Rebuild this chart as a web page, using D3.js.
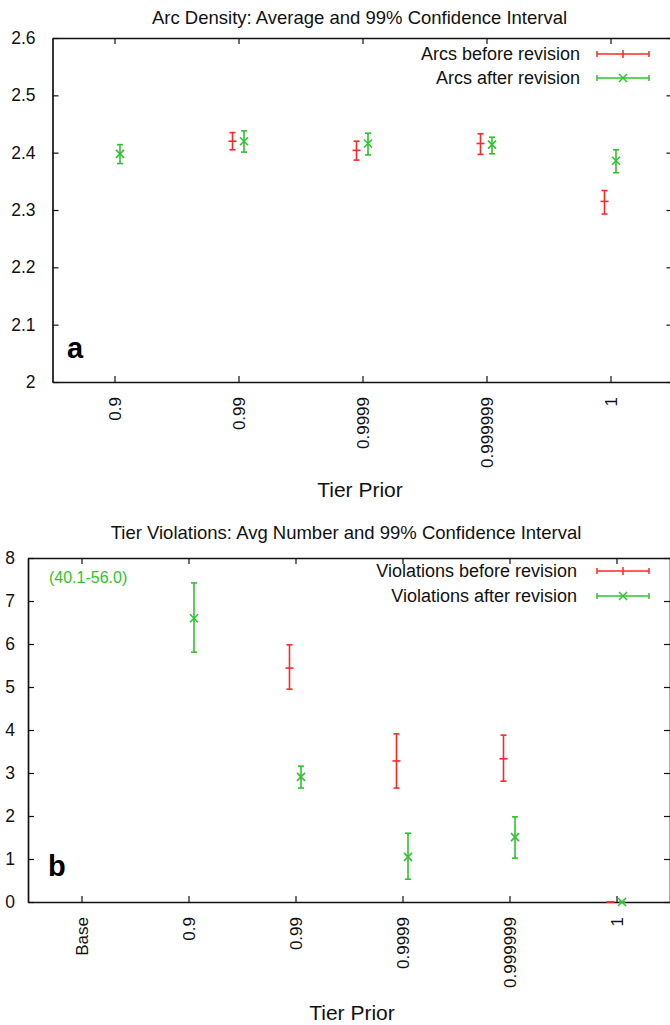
<!DOCTYPE html>
<html>
<head>
<meta charset="utf-8">
<script src="https://cdn.jsdelivr.net/npm/d3@7"></script>
<style>
  html, body { margin: 0; padding: 0; background: #fff; }
  svg { display: block; font-family: "Liberation Sans", Arial, Helvetica, sans-serif; }
</style>
</head>
<body>
<svg id="chart" width="670" height="1025"></svg>
<script>
// ---------- Panel a: Arc density ----------
const arcCategories = ["0.9", "0.99", "0.9999", "0.999999", "1"];
const arcBeforeMean = [null, 2.420, 2.404, 2.416, 2.315];
const arcBeforeLow  = [null, 2.405, 2.387, 2.397, 2.293];
const arcBeforeHigh = [null, 2.435, 2.420, 2.433, 2.334];
const arcAfterMean  = [2.398, 2.420, 2.416, 2.414, 2.386];
const arcAfterLow   = [2.381, 2.401, 2.396, 2.398, 2.365];
const arcAfterHigh  = [2.414, 2.438, 2.434, 2.427, 2.405];
const arcYTicks = [2.0, 2.1, 2.2, 2.3, 2.4, 2.5, 2.6];
const arcYDomain = [2.0, 2.6];

// ---------- Panel b: Tier violations ----------
const vioCategories = ["Base", "0.9", "0.99", "0.9999", "0.999999", "1"];
const vioBeforeMean = [null, null, 5.44, 3.28, 3.33, 0];
const vioBeforeLow  = [null, null, 4.95, 2.65, 2.81, 0];
const vioBeforeHigh = [null, null, 5.98, 3.91, 3.88, 0];
const vioAfterMean  = [null, 6.60, 2.91, 1.05, 1.51, 0];
const vioAfterLow   = [null, 5.81, 2.65, 0.53, 1.02, 0];
const vioAfterHigh  = [null, 7.42, 3.16, 1.60, 1.98, 0];
const vioYTicks = [0, 1, 2, 3, 4, 5, 6, 7, 8];
const vioYDomain = [0, 8];

const RED = "#ff2626";
const GREEN = "#2dc42d";

const svg = d3.select("#chart");

function drawPanel(cfg) {
  const g = svg.append("g");
  const x = d3.scaleLinear().domain([-0.5, cfg.categories.length - 0.5]).range([cfg.left, cfg.right]);
  const y = d3.scaleLinear().domain(cfg.yDomain).range([cfg.bottom, cfg.top]);
  const idx = cfg.categories.map((_, i) => i);

  // title
  g.append("text").attr("x", (cfg.left + cfg.right) / 2 - 3).attr("y", cfg.titleY)
    .attr("text-anchor", "middle").attr("font-size", 18.5).attr("fill", "#111")
    .text(cfg.title);

  // axes
  const yLeft = d3.axisLeft(y).tickValues(cfg.yTicks).tickSize(-6).tickSizeOuter(0)
    .tickPadding(cfg.yPad).tickFormat(cfg.yFormat);
  const yRight = d3.axisRight(y).tickValues(cfg.yTicks).tickSize(-6).tickSizeOuter(0).tickFormat("");
  const xBottom = d3.axisBottom(x).tickValues(idx).tickSize(-6).tickSizeOuter(0)
    .tickFormat(i => cfg.categories[i]);
  const xTop = d3.axisTop(x).tickValues(idx).tickSize(-6).tickSizeOuter(0).tickFormat("");

  const ay = g.append("g").attr("transform", `translate(${cfg.left},0)`).call(yLeft);
  ay.selectAll("text").attr("font-size", 17.5).attr("fill", "#111").attr("font-family", null);
  g.append("g").attr("transform", `translate(${cfg.right},0)`).call(yRight);
  g.append("g").attr("transform", `translate(0,${cfg.top})`).call(xTop);
  const ax = g.append("g").attr("transform", `translate(0,${cfg.bottom})`).call(xBottom);
  ax.selectAll("text")
    .attr("transform", "rotate(-90)")
    .attr("x", -15).attr("y", 0).attr("dy", "0.36em")
    .attr("text-anchor", "end")
    .attr("font-size", 17).attr("fill", "#111").attr("font-family", null);
  g.selectAll(".domain").attr("stroke", "#111").attr("stroke-width", 1.7);
  g.selectAll(".tick line").attr("stroke", "#111").attr("stroke-width", 1.2);

  // x axis label
  g.append("text").attr("x", cfg.xLabelX).attr("y", cfg.xLabelY)
    .attr("text-anchor", "middle").attr("font-size", 21).attr("fill", "#111")
    .text("Tier Prior");

  // panel letter
  g.append("text").attr("x", cfg.letterX).attr("y", cfg.letterY)
    .attr("font-size", 29).attr("font-weight", "bold").attr("fill", "#000")
    .text(cfg.letter);

  // error bars
  function series(mean, low, high, color, offset, marker) {
    const s = g.append("g").attr("stroke", color).attr("stroke-width", 1.6).attr("fill", "none");
    idx.forEach(i => {
      if (mean[i] === null) return;
      const cx = x(i) + offset;
      const yl = y(low[i]), yh = y(high[i]), ym = y(mean[i]);
      s.append("line").attr("x1", cx).attr("x2", cx).attr("y1", yl).attr("y2", yh);
      s.append("line").attr("x1", cx - 3).attr("x2", cx + 3).attr("y1", yl).attr("y2", yl);
      s.append("line").attr("x1", cx - 3).attr("x2", cx + 3).attr("y1", yh).attr("y2", yh);
      if (marker === "plus") {
        s.append("line").attr("x1", cx - 4).attr("x2", cx + 4).attr("y1", ym).attr("y2", ym);
      } else {
        s.append("line").attr("x1", cx - 4).attr("x2", cx + 4).attr("y1", ym - 4).attr("y2", ym + 4);
        s.append("line").attr("x1", cx - 4).attr("x2", cx + 4).attr("y1", ym + 4).attr("y2", ym - 4);
      }
    });
  }
  series(cfg.beforeMean, cfg.beforeLow, cfg.beforeHigh, RED, -6, "plus");
  series(cfg.afterMean, cfg.afterLow, cfg.afterHigh, GREEN, 5.5, "x");

  // legend
  const legend = [
    { label: cfg.legendLabels[0], color: RED, marker: "plus", y: cfg.legendY[0] },
    { label: cfg.legendLabels[1], color: GREEN, marker: "x", y: cfg.legendY[1] }
  ];
  legend.forEach(d => {
    g.append("text").attr("x", cfg.legendTextX).attr("y", d.y).attr("dy", "0.35em")
      .attr("text-anchor", "end").attr("font-size", 18).attr("fill", "#111").text(d.label);
    const lg = g.append("g").attr("stroke", d.color).attr("stroke-width", 1.5);
    const x1 = 597, x2 = 649, xm = 623;
    lg.append("line").attr("x1", x1).attr("x2", x2).attr("y1", d.y).attr("y2", d.y);
    lg.append("line").attr("x1", x1).attr("x2", x1).attr("y1", d.y - 3).attr("y2", d.y + 3);
    lg.append("line").attr("x1", x2).attr("x2", x2).attr("y1", d.y - 3).attr("y2", d.y + 3);
    if (d.marker === "plus") {
      lg.append("line").attr("x1", xm).attr("x2", xm).attr("y1", d.y - 4).attr("y2", d.y + 4);
    } else {
      lg.append("line").attr("x1", xm - 4).attr("x2", xm + 4).attr("y1", d.y - 4).attr("y2", d.y + 4);
      lg.append("line").attr("x1", xm - 4).attr("x2", xm + 4).attr("y1", d.y + 4).attr("y2", d.y - 4);
    }
  });

  if (cfg.note) {
    g.append("text").attr("x", cfg.note.x).attr("y", cfg.note.y).attr("dy", "0.35em")
      .attr("font-size", 16).attr("fill", GREEN).text(cfg.note.text);
  }
}

drawPanel({
  title: "Arc Density: Average and 99% Confidence Interval",
  titleY: 24,
  categories: arcCategories,
  yDomain: arcYDomain, yTicks: arcYTicks,
  yFormat: d => (d === 2 ? "2" : d3.format(".1f")(d)),
  yPad: 17,
  left: 52.5, right: 672.5, top: 38, bottom: 382,
  beforeMean: arcBeforeMean, beforeLow: arcBeforeLow, beforeHigh: arcBeforeHigh,
  afterMean: arcAfterMean, afterLow: arcAfterLow, afterHigh: arcAfterHigh,
  legendLabels: ["Arcs before revision", "Arcs after revision"],
  legendY: [54, 78], legendTextX: 580,
  xLabelX: 360, xLabelY: 497,
  letter: "a", letterX: 67, letterY: 358
});

drawPanel({
  title: "Tier Violations: Avg Number and 99% Confidence Interval",
  titleY: 539,
  categories: vioCategories,
  yDomain: vioYDomain, yTicks: vioYTicks,
  yFormat: d3.format("d"),
  yPad: 13,
  left: 28, right: 670, top: 558, bottom: 902,
  beforeMean: vioBeforeMean, beforeLow: vioBeforeLow, beforeHigh: vioBeforeHigh,
  afterMean: vioAfterMean, afterLow: vioAfterLow, afterHigh: vioAfterHigh,
  legendLabels: ["Violations before revision", "Violations after revision"],
  legendY: [571, 596], legendTextX: 577,
  xLabelX: 352, xLabelY: 1020,
  letter: "b", letterX: 48, letterY: 876,
  note: { text: "(40.1-56.0)", x: 49, y: 577 }
});
</script>
</body>
</html>
